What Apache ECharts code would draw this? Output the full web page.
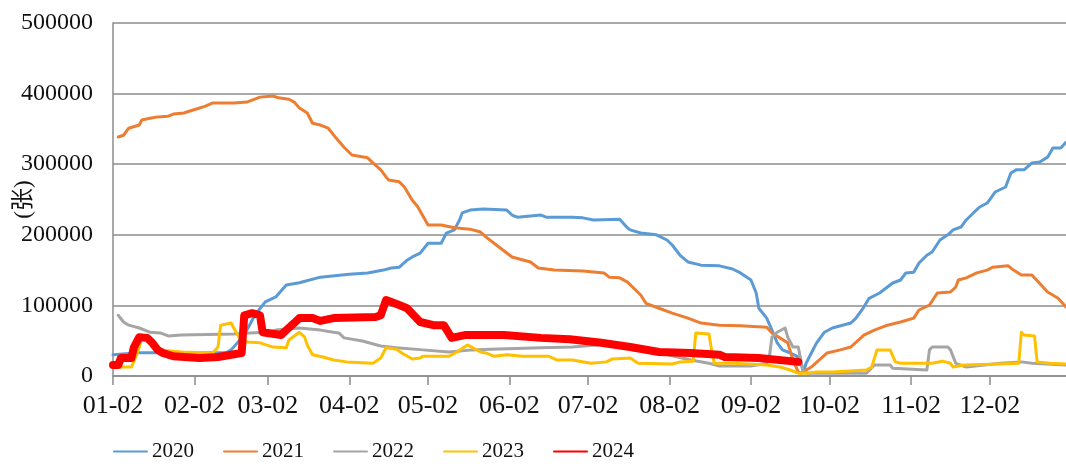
<!DOCTYPE html>
<html>
<head>
<meta charset="utf-8">
<script src="https://cdn.jsdelivr.net/npm/echarts@6/dist/echarts.min.js"></script>
<style>
  html, body { margin: 0; padding: 0; background: #fff; }
  #chart { width: 1066px; height: 464px; }
</style>
</head>
<body>
<div id="chart"></div>
<script>
// Daily axis: every calendar day from 01-02 to 12-31 (non-leap year).
const monthLengths = [31, 28, 31, 30, 31, 30, 31, 31, 30, 31, 30, 31];
const categories = [];
monthLengths.forEach(function (len, m) {
  for (let d = (m === 0 ? 2 : 1); d <= len; d++) {
    categories.push(String(m + 1).padStart(2, '0') + '-' + String(d).padStart(2, '0'));
  }
});

// Y-axis ticks
const yTicks = [0, 100000, 200000, 300000, 400000, 500000];

const seriesNames = ['2020', '2021', '2022', '2023', '2024'];

// Warehouse receipts (张), [date, value]
const data2020 = [
  ['01-02', 30000], ['01-12', 33000], ['02-14', 33000], ['02-16', 37000], ['02-21', 58000],
  ['02-25', 86000], ['03-01', 105000], ['03-05', 112000], ['03-09', 129000], ['03-14', 132000],
  ['03-22', 140000], ['04-02', 144000], ['04-09', 146000], ['04-15', 150000], ['04-18', 153000],
  ['04-21', 154000], ['04-24', 164000], ['04-26', 168600], ['04-29', 174000], ['05-02', 188000],
  ['05-07', 188000], ['05-09', 202500], ['05-12', 207000], ['05-14', 221000], ['05-15', 231000],
  ['05-18', 235000], ['05-23', 236500], ['06-01', 235000], ['06-03', 228000], ['06-05', 225000],
  ['06-14', 228000], ['06-16', 225000], ['06-26', 225000], ['06-30', 224000], ['07-04', 221000],
  ['07-14', 222000], ['07-17', 209600], ['07-18', 207000], ['07-22', 202500], ['07-28', 200000],
  ['08-01', 192600], ['08-03', 185500], ['08-06', 171000], ['08-09', 161500], ['08-14', 157000],
  ['08-21', 156000], ['08-26', 151600], ['08-29', 146000], ['09-02', 136000], ['09-04', 117600],
  ['09-05', 96000], ['09-08', 82000], ['09-10', 65000], ['09-12', 47000], ['09-14', 37000],
  ['09-17', 32600], ['09-20', 27000], ['09-21', 18000], ['09-22', 5700], ['09-23', 18000],
  ['09-25', 32600], ['09-27', 47000], ['09-30', 62000], ['10-03', 68000], ['10-10', 75000],
  ['10-12', 82000], ['10-15', 97700], ['10-17', 110000], ['10-21', 117600], ['10-24', 126000],
  ['10-26', 131700], ['10-29', 136000], ['10-31', 146000], ['11-03', 147000], ['11-05', 160000],
  ['11-08', 171000], ['11-10', 175600], ['11-13', 192600], ['11-16', 200000], ['11-18', 207000],
  ['11-21', 211000], ['11-23', 221000], ['11-26', 232000], ['11-28', 239000], ['12-01', 245000],
  ['12-04', 260600], ['12-08', 267700], ['12-10', 287500], ['12-12', 292000], ['12-15', 292000],
  ['12-18', 301700], ['12-21', 303000], ['12-24', 310000], ['12-26', 323000], ['12-29', 323000],
  ['12-31', 331000]
];

const data2021 = [
  ['01-04', 338500], ['01-06', 341000], ['01-08', 351000], ['01-12', 355500], ['01-13', 362600],
  ['01-16', 365000], ['01-19', 367000], ['01-23', 368000], ['01-25', 371000], ['01-29', 372500],
  ['01-31', 375000], ['02-04', 379600], ['02-06', 382000], ['02-09', 386700], ['02-17', 386700],
  ['02-22', 388000], ['02-24', 390700], ['02-27', 395000], ['03-04', 396600], ['03-06', 394000],
  ['03-10', 392000], ['03-12', 388000], ['03-14', 379600], ['03-17', 372500], ['03-19', 358000],
  ['03-22', 355500], ['03-25', 351000], ['03-28', 337000], ['03-31', 324000], ['04-03', 313000],
  ['04-09', 309000], ['04-11', 302000], ['04-14', 292000], ['04-16', 282000], ['04-17', 277600],
  ['04-21', 275000], ['04-23', 267700], ['04-26', 249000], ['04-28', 240000], ['05-02', 214000],
  ['05-07', 214000], ['05-12', 210000], ['05-18', 208000], ['05-22', 204000], ['05-24', 197000],
  ['05-28', 185500], ['06-03', 168600], ['06-10', 161500], ['06-13', 153000], ['06-19', 150000],
  ['06-30', 148700], ['07-08', 146000], ['07-10', 140000], ['07-14', 139000], ['07-17', 133000],
  ['07-22', 114700], ['07-24', 103000], ['07-29', 96000], ['08-03', 89000], ['08-09', 82000],
  ['08-14', 75000], ['08-21', 72000], ['08-29', 71000], ['09-08', 69000], ['09-10', 61000],
  ['09-13', 54000], ['09-16', 47000], ['09-18', 22700], ['09-20', 5700], ['09-21', 4000],
  ['09-25', 12700], ['10-01', 32600], ['10-06', 37000], ['10-10', 41000], ['10-15', 58000],
  ['10-19', 65000], ['10-24', 72000], ['10-29', 76500], ['11-03', 82000], ['11-05', 93500],
  ['11-09', 100500], ['11-12', 117600], ['11-17', 119000], ['11-19', 126000], ['11-20', 136000],
  ['11-23', 139000], ['11-27', 146000], ['12-01', 150000], ['12-03', 154000], ['12-09', 156000],
  ['12-11', 150000], ['12-14', 143000], ['12-18', 143000], ['12-24', 119000], ['12-28', 110000],
  ['12-31', 97700]
];

const data2022 = [
  ['01-04', 86000], ['01-06', 76500], ['01-08', 72000], ['01-12', 68000], ['01-16', 62000],
  ['01-20', 61000], ['01-23', 56700], ['01-28', 58000], ['02-17', 59500], ['02-23', 61000],
  ['03-02', 62000], ['03-05', 65000], ['03-14', 68000], ['03-22', 65000], ['03-27', 62000],
  ['03-29', 61000], ['03-31', 54000], ['04-07', 49600], ['04-14', 42500], ['04-20', 40000],
  ['04-30', 37000], ['05-10', 34000], ['05-19', 37000], ['05-26', 38000], ['06-14', 40000],
  ['06-26', 41000], ['07-09', 45000], ['07-16', 44000], ['07-19', 37000], ['07-29', 33000],
  ['08-10', 22700], ['08-17', 18000], ['08-21', 14000], ['09-02', 14000], ['09-08', 18000],
  ['09-09', 27000], ['09-10', 55000], ['09-12', 62000], ['09-15', 68000], ['09-16', 55000],
  ['09-18', 41000], ['09-20', 41000], ['09-21', 22700], ['09-22', 5700], ['09-23', 4000],
  ['10-16', 4000], ['10-19', 15600], ['10-25', 15600], ['10-26', 11000], ['11-08', 8500],
  ['11-09', 37000], ['11-10', 41000], ['11-16', 41000], ['11-17', 37000], ['11-19', 18000],
  ['11-23', 12700], ['12-06', 18000], ['12-14', 20000], ['12-18', 18000], ['12-31', 15600]
];

const data2023 = [
  ['01-02', 12700], ['01-09', 12700], ['01-11', 30000], ['01-12', 41000], ['01-13', 55000],
  ['01-15', 51000], ['01-17', 41000], ['01-20', 37000], ['01-28', 34000], ['02-09', 32600],
  ['02-11', 41000], ['02-12', 72000], ['02-16', 75000], ['02-17', 68000], ['02-19', 55000],
  ['02-22', 48000], ['02-27', 47000], ['03-04', 41000], ['03-09', 40000], ['03-10', 51000],
  ['03-14', 62000], ['03-16', 55000], ['03-17', 44000], ['03-19', 30000], ['03-23', 27000],
  ['03-27', 22700], ['04-01', 20000], ['04-11', 18000], ['04-14', 25500], ['04-16', 40000],
  ['04-20', 38000], ['04-22', 32600], ['04-26', 24000], ['04-29', 25500], ['04-30', 28000],
  ['05-10', 28000], ['05-13', 34000], ['05-17', 44000], ['05-22', 34000], ['05-24', 32600],
  ['05-27', 28000], ['06-01', 30000], ['06-07', 28000], ['06-17', 28000], ['06-20', 22700],
  ['06-26', 22700], ['07-03', 18000], ['07-09', 20000], ['07-11', 24000], ['07-18', 25500],
  ['07-21', 18000], ['08-03', 17000], ['08-06', 20000], ['08-11', 21000], ['08-12', 61000],
  ['08-17', 59500], ['08-18', 37000], ['08-19', 18000], ['08-26', 18000], ['09-08', 15600],
  ['09-13', 12700], ['09-17', 8500], ['09-20', 4000], ['09-23', 4000], ['09-27', 5700],
  ['10-03', 5700], ['10-16', 8500], ['10-18', 12700], ['10-20', 37000], ['10-25', 37000],
  ['10-27', 20000], ['10-29', 18000], ['11-10', 18000], ['11-14', 21000], ['11-17', 18000],
  ['11-18', 12700], ['11-22', 15600], ['12-06', 17000], ['12-13', 18000], ['12-14', 62000],
  ['12-15', 58000], ['12-19', 56700], ['12-20', 20000], ['12-25', 18000], ['12-31', 17000]
];

const data2024 = [
  ['01-02', 15600], ['01-04', 15600], ['01-05', 25500], ['01-09', 25500], ['01-10', 41000],
  ['01-12', 55000], ['01-15', 54000], ['01-17', 47000], ['01-19', 37000], ['01-21', 32600],
  ['01-25', 28000], ['02-04', 25500], ['02-11', 27000], ['02-16', 30000], ['02-20', 32600],
  ['02-21', 86000], ['02-24', 89000], ['02-27', 86000], ['02-28', 62000], ['03-07', 58000],
  ['03-09', 65000], ['03-12', 75000], ['03-14', 82000], ['03-19', 82000], ['03-22', 78000],
  ['03-27', 82000], ['04-12', 83500], ['04-14', 86000], ['04-16', 107600], ['04-21', 100500],
  ['04-24', 96000], ['04-29', 76500], ['05-04', 72000], ['05-08', 72000], ['05-11', 54000],
  ['05-16', 58000], ['05-31', 58000], ['06-14', 54000], ['06-25', 52000], ['07-07', 47000],
  ['07-18', 41000], ['07-29', 34000], ['08-10', 32600], ['08-21', 30000], ['08-23', 27000],
  ['09-05', 25500], ['09-20', 20000]
];

const seriesData = [data2020, data2021, data2022, data2023, data2024];
const seriesColors = ['#5B9BD5', '#ED7D31', '#A5A5A5', '#FFC000', '#FF0000'];
const seriesWidths = [3, 3, 3, 3, 8];

const serif = '"Liberation Serif", "Times New Roman", "Noto Sans CJK SC", serif';
const gridColor = '#8C8C8C';
const isMonthTick = function (idx, val) { return String(val).slice(3) === '02'; };

const chart = echarts.init(document.getElementById('chart'), null, { renderer: 'canvas' });
chart.setOption({
  animation: false,
  backgroundColor: '#fff',
  grid: { left: 113, right: 0, top: 23, bottom: 88, containLabel: false, outerBoundsMode: 'none' },
  legend: {
    data: seriesNames,
    orient: 'horizontal',
    left: 108,
    top: 436,
    padding: 5,
    width: 900,
    itemWidth: 33,
    itemHeight: 14,
    itemGap: 29,
    itemStyle: { opacity: 0 },
    textStyle: { fontFamily: serif, fontSize: 21, color: '#111' }
  },
  xAxis: {
    type: 'category',
    data: categories,
    boundaryGap: false,
    axisLine: { lineStyle: { color: gridColor, width: 1.5 } },
    axisTick: { show: true, interval: isMonthTick, length: 9, lineStyle: { color: gridColor, width: 1.5 } },
    axisLabel: {
      interval: isMonthTick,
      margin: 17,
      fontFamily: serif,
      fontSize: 26,
      color: '#111',
      hideOverlap: false
    },
    splitLine: { show: false }
  },
  yAxis: {
    type: 'value',
    min: yTicks[0],
    max: yTicks[yTicks.length - 1],
    interval: yTicks[1] - yTicks[0],
    name: '(张)',
    nameLocation: 'middle',
    nameRotate: 90,
    nameGap: 78,
    nameMoveOverlap: false,
    nameTextStyle: { fontFamily: serif, fontSize: 23, color: '#111' },
    axisLine: { show: true, lineStyle: { color: gridColor, width: 1.5 } },
    axisTick: { show: false },
    axisLabel: {
      margin: 20,
      fontFamily: serif,
      fontSize: 24,
      color: '#111',
      formatter: function (v) { return String(v); }
    },
    splitLine: { show: true, lineStyle: { color: gridColor, width: 1.5 } }
  },
  series: seriesNames.map(function (name, i) {
    return {
      name: name,
      type: 'line',
      data: seriesData[i],
      showSymbol: false,
      symbol: 'none',
      color: seriesColors[i],
      lineStyle: { color: seriesColors[i], width: seriesWidths[i], cap: 'round', join: 'round' },
      z: 2 + i
    };
  })
});
</script>
</body>
</html>
